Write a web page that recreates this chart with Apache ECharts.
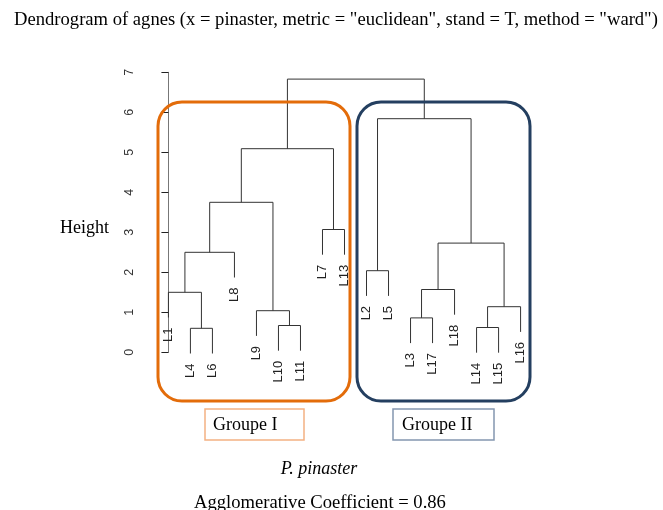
<!DOCTYPE html>
<html><head><meta charset="utf-8">
<script src="https://cdn.jsdelivr.net/npm/echarts@6/dist/echarts.min.js"></script>
<style>html,body{margin:0;padding:0;background:#fff}#c{width:663px;height:510px}</style>
</head><body><div id="c"></div>
<script>
// Leaf labels in dendrogram order
const leafLabels = ['L1','L4','L6','L8','L9','L10','L11','L7','L13','L2','L5','L3','L17','L18','L14','L15','L16'];
// Merge matrix (R hclust style): negative = leaf (1-based position in leafLabels), positive = earlier merge
const mergeLeft  = [-2, -15, -6, -12, -5,  2, -1,  4, -10,  7,  8, -8, 10, 13,  9, 14];
const mergeRight = [-3, -16, -7, -13,  3, -17, 1, -14, -11, -4,  6, -9,  5, 12, 11, 15];
const mergeHeights = [0.60, 0.62, 0.67, 0.86, 1.04, 1.14, 1.50, 1.57, 2.04, 2.50, 2.73, 3.07, 3.75, 5.09, 5.84, 6.83];
const yTickLabels = ['0','1','2','3','4','5','6','7'];
const HANG = 0.63;

// node positions
const mX = [], mH = [];
const leafBottom = new Array(leafLabels.length);
function nx(v){ return v < 0 ? (-v - 1) : mX[v - 1]; }
const segData = [];
for (let i = 0; i < mergeHeights.length; i++) {
  const a = mergeLeft[i], b = mergeRight[i], h = mergeHeights[i];
  const ax = nx(a), bx = nx(b);
  const ab = a < 0 ? h - HANG : mergeHeights[a - 1];
  const bb = b < 0 ? h - HANG : mergeHeights[b - 1];
  if (a < 0) leafBottom[-a - 1] = ab;
  if (b < 0) leafBottom[-b - 1] = bb;
  mX.push((ax + bx) / 2); mH.push(h);
  segData.push([ax, bx, h, ab, bb]);
}
const leafData = leafLabels.map((l, i) => [i, leafBottom[i], l]);

const chart = echarts.init(document.getElementById('c'), null, {renderer: 'canvas'});
const serif = '"Liberation Serif", "Times New Roman", serif';
chart.setOption({
  animation: false,
  grid: {left: 153, width: 383, top: 72.3, height: 280},
  xAxis: {type: 'value', min: -0.7, max: 16.7, show: false},
  yAxis: {
    type: 'value', min: 0, max: 7, interval: 1,
    axisLine: {show: true, lineStyle: {color: '#777', width: 1}},
    axisTick: {show: true, length: 7, lineStyle: {color: '#222'}},
    axisLabel: {rotate: 90, margin: 17, fontSize: 12.5, color: '#333', fontFamily: 'Liberation Sans, Arial',
      formatter: v => yTickLabels[v]},
    splitLine: {show: false}
  },
  series: [
    {
      type: 'custom', data: segData, z: 2,
      renderItem: (params, api) => {
        const ax = api.value(0), bx = api.value(1), h = api.value(2), ab = api.value(3), bb = api.value(4);
        const p1 = api.coord([ax, ab]), p2 = api.coord([ax, h]), p3 = api.coord([bx, h]), p4 = api.coord([bx, bb]);
        return {type: 'polyline', shape: {points: [p1, p2, p3, p4]},
          style: {stroke: '#333', lineWidth: 1, fill: null}};
      }
    },
    {
      type: 'custom', data: leafData, z: 2,
      renderItem: (params, api) => {
        const p = api.coord([api.value(0), api.value(1)]);
        return {type: 'text', x: p[0], y: p[1] + 10, rotation: Math.PI / 2,
          style: {text: leafLabels[params.dataIndex], align: 'right', verticalAlign: 'middle',
            font: '13px "Liberation Sans", Arial', fill: '#222'}};
      }
    }
  ],
  graphic: [
    {type: 'text', x: 336, y: 20, z: 10,
      style: {text: 'Dendrogram of agnes (x = pinaster, metric = "euclidean", stand = T, method = "ward")',
        font: '18.6px ' + serif, fill: '#000', align: 'center', verticalAlign: 'middle'}},
    {type: 'text', x: 60, y: 228, z: 10,
      style: {text: 'Height', font: '18px ' + serif, fill: '#000', verticalAlign: 'middle'}},
    {type: 'rect', z: 10, shape: {x: 158, y: 102, width: 192, height: 299, r: 24},
      style: {fill: null, stroke: '#E36C0A', lineWidth: 3}},
    {type: 'rect', z: 10, shape: {x: 357, y: 102, width: 173, height: 299, r: 24},
      style: {fill: null, stroke: '#243F60', lineWidth: 3}},
    {type: 'rect', z: 10, shape: {x: 205, y: 409, width: 99, height: 31},
      style: {fill: null, stroke: '#F4B183', lineWidth: 1.5}},
    {type: 'rect', z: 10, shape: {x: 393, y: 409, width: 101, height: 31},
      style: {fill: null, stroke: '#8497B0', lineWidth: 1.5}},
    {type: 'text', x: 213, y: 425, z: 10,
      style: {text: 'Groupe I', font: '18px ' + serif, fill: '#000', verticalAlign: 'middle'}},
    {type: 'text', x: 402, y: 425, z: 10,
      style: {text: 'Groupe II', font: '18px ' + serif, fill: '#000', verticalAlign: 'middle'}},
    {type: 'text', x: 319, y: 469, z: 10,
      style: {text: 'P. pinaster', font: 'italic 18px ' + serif, fill: '#000', align: 'center', verticalAlign: 'middle'}},
    {type: 'text', x: 320, y: 503, z: 10,
      style: {text: 'Agglomerative Coefficient = 0.86', font: '18.6px ' + serif, fill: '#000', align: 'center', verticalAlign: 'middle'}}
  ]
});
</script></body></html>
